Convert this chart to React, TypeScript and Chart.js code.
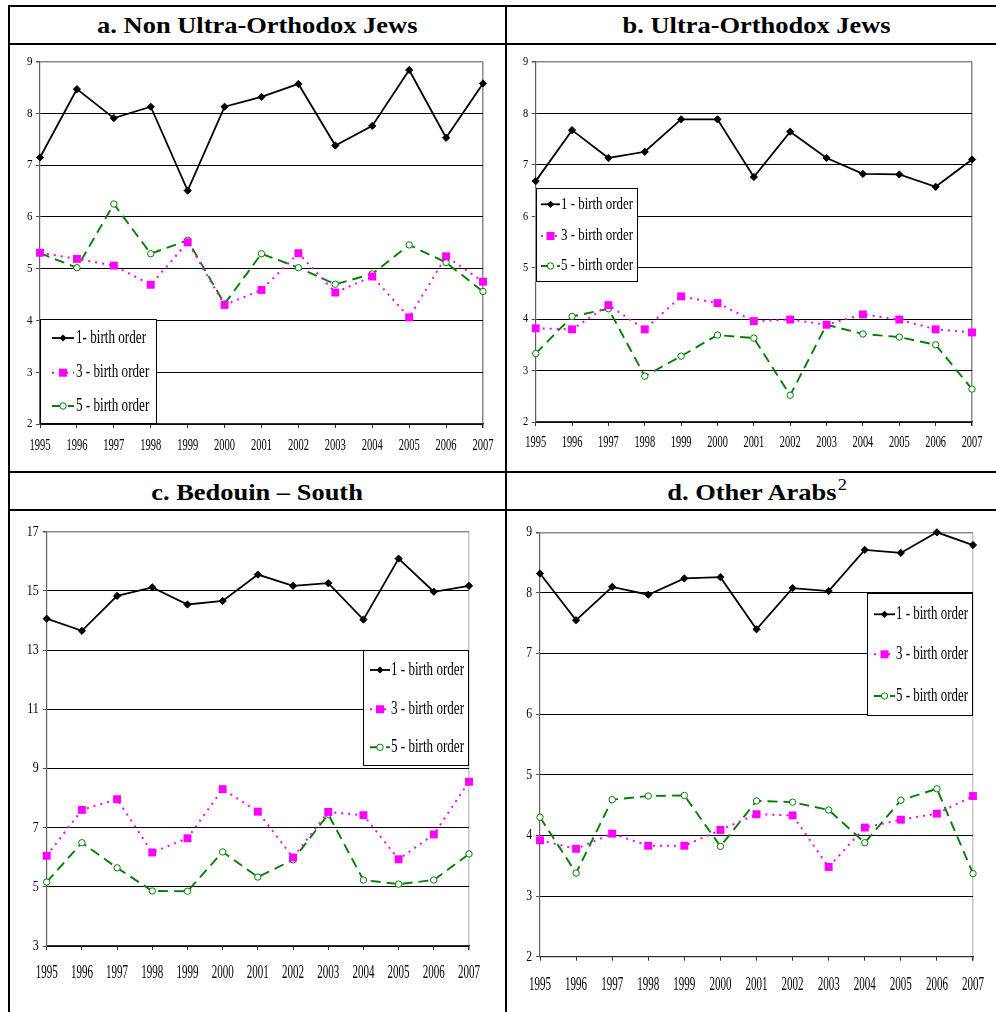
import React, { useEffect, useRef } from 'react';
import { Chart, registerables } from 'chart.js';

Chart.register(...registerables);

const FONT = "'Liberation Serif', 'Times New Roman', serif";

const YEARS = ['1995', '1996', '1997', '1998', '1999', '2000', '2001', '2002', '2003', '2004', '2005', '2006', '2007'];

const NAMES_A = ['1- birth order', '3 - birth order', '5 - birth order'];
const NAMES = ['1 - birth order', '3 - birth order', '5 - birth order'];

const A_FIRST = [7.15, 8.47, 7.91, 8.13, 6.51, 8.13, 8.32, 8.57, 7.38, 7.76, 8.84, 7.53, 8.58];
const A_THIRD = [5.31, 5.19, 5.06, 4.69, 5.51, 4.3, 4.59, 5.3, 4.54, 4.85, 4.06, 5.24, 4.75];
const A_FIFTH = [5.3, 5.02, 6.25, 5.29, 5.55, 4.32, 5.29, 5.02, 4.7, 4.9, 5.46, 5.12, 4.56];

const B_FIRST = [6.68, 7.67, 7.13, 7.25, 7.88, 7.88, 6.76, 7.64, 7.13, 6.82, 6.81, 6.57, 7.1];
const B_THIRD = [3.82, 3.8, 4.27, 3.8, 4.44, 4.31, 3.96, 3.99, 3.89, 4.09, 3.99, 3.8, 3.74];
const B_FIFTH = [3.33, 4.05, 4.2, 2.89, 3.28, 3.69, 3.63, 2.52, 3.89, 3.71, 3.65, 3.5, 2.64];

const C_FIRST = [14.06, 13.65, 14.83, 15.12, 14.54, 14.66, 15.55, 15.17, 15.26, 14.03, 16.09, 14.97, 15.17];
const C_THIRD = [6.05, 7.6, 7.96, 6.16, 6.64, 8.3, 7.54, 5.99, 7.53, 7.42, 5.93, 6.77, 8.55];
const C_FIFTH = [5.16, 6.49, 5.64, 4.86, 4.85, 6.18, 5.33, 5.91, 7.45, 5.23, 5.09, 5.23, 6.11];

const D_FIRST = [8.32, 7.55, 8.1, 7.97, 8.24, 8.26, 7.4, 8.08, 8.03, 8.71, 8.66, 9.0, 8.79];
const D_THIRD = [3.92, 3.78, 4.03, 3.83, 3.83, 4.09, 4.35, 4.33, 3.48, 4.13, 4.26, 4.36, 4.65];
const D_FIFTH = [4.3, 3.38, 4.59, 4.65, 4.66, 3.82, 4.57, 4.55, 4.42, 3.88, 4.58, 4.77, 3.37];

const Y_RANGE_AB = { min: 2, max: 9, step: 1 };
const Y_RANGE_C = { min: 3, max: 17, step: 2 };
const Y_RANGE_D = { min: 2, max: 9, step: 1 };

type Legend = {
  x0: number; y0: number; x1: number; y1: number;
  rows: number[]; s0: number; s1: number; tx: number; font: number; tw: number;
};

type Panel = {
  id: string;
  box: { left: number; top: number; width: number; height: number };
  area: { left: number; top: number; right: number; bottom: number };
  range: { min: number; max: number; step: number };
  series: number[][];
  names: string[];
  yFont: number; ySx: number; yGap: number;
  xFont: number; xW: number; xDy: number;
  legend: Legend;
  rightColor: string;
};

const PANELS: Panel[] = [
  {
    id: 'a',
    box: { left: 10, top: 45, width: 495, height: 426 },
    area: { left: 40, top: 61.7, right: 483, bottom: 424 },
    range: Y_RANGE_AB,
    series: [A_FIRST, A_THIRD, A_FIFTH],
    names: NAMES_A,
    yFont: 12.5, ySx: 0.88, yGap: 7.5,
    xFont: 16, xW: 21, xDy: 22,
    legend: { x0: 40, y0: 319, x1: 157, y1: 424, rows: [338, 372.7, 406], s0: 52, s1: 74, tx: 76, font: 18, tw: 70 },
    rightColor: '#8a8a8a',
  },
  {
    id: 'b',
    box: { left: 507, top: 45, width: 489, height: 426 },
    area: { left: 535.7, top: 61.7, right: 972, bottom: 422 },
    range: Y_RANGE_AB,
    series: [B_FIRST, B_THIRD, B_FIFTH],
    names: NAMES,
    yFont: 13, ySx: 0.8, yGap: 7.5,
    xFont: 17, xW: 20.7, xDy: 20.3,
    legend: { x0: 535.7, y0: 188, x1: 638, y1: 282, rows: [204.3, 236, 266], s0: 541, s1: 560, tx: 561, font: 17, tw: 72 },
    rightColor: '#8a8a8a',
  },
  {
    id: 'c',
    box: { left: 10, top: 511, width: 495, height: 501 },
    area: { left: 46.7, top: 531.7, right: 469, bottom: 946 },
    range: Y_RANGE_C,
    series: [C_FIRST, C_THIRD, C_FIFTH],
    names: NAMES,
    yFont: 15, ySx: 0.8, yGap: 8,
    xFont: 19, xW: 22, xDy: 27,
    legend: { x0: 363, y0: 650, x1: 469, y1: 766, rows: [670, 709.3, 747.3], s0: 370, s1: 390, tx: 391, font: 19, tw: 73 },
    rightColor: '#c8c8c8',
  },
  {
    id: 'd',
    box: { left: 507, top: 511, width: 489, height: 501 },
    area: { left: 540, top: 532.3, right: 973, bottom: 956.7 },
    range: Y_RANGE_D,
    series: [D_FIRST, D_THIRD, D_FIFTH],
    names: NAMES,
    yFont: 15, ySx: 0.78, yGap: 8,
    xFont: 19, xW: 22, xDy: 28.3,
    legend: { x0: 867, y0: 593, x1: 973, y1: 716, rows: [614.3, 654.3, 696], s0: 874, s1: 895, tx: 896, font: 19, tw: 72 },
    rightColor: '#c8c8c8',
  },
];

const STYLES = [
  { color: '#000000', width: 1.8, dash: [] as number[], pointStyle: 'rectRot', radius: 3.6, fill: '#000000', pbw: 1 },
  { color: '#FF00FF', width: 2, dash: [2, 5], pointStyle: 'rect', radius: 5.6, fill: '#FF00FF', pbw: 0 },
  { color: '#008000', width: 1.9, dash: [10, 6], pointStyle: 'circle', radius: 3.2, fill: '#FFFFFF', pbw: 1 },
];

function drawMarker(ctx: CanvasRenderingContext2D, i: number, x: number, y: number) {
  ctx.save();
  ctx.setLineDash([]);
  if (i === 0) {
    ctx.fillStyle = '#000';
    ctx.beginPath();
    ctx.moveTo(x, y - 3.6);
    ctx.lineTo(x + 3.6, y);
    ctx.lineTo(x, y + 3.6);
    ctx.lineTo(x - 3.6, y);
    ctx.closePath();
    ctx.fill();
  } else if (i === 1) {
    ctx.fillStyle = '#FF00FF';
    ctx.fillRect(x - 4, y - 4, 8, 8);
  } else {
    ctx.fillStyle = '#fff';
    ctx.strokeStyle = '#008000';
    ctx.lineWidth = 1;
    ctx.beginPath();
    ctx.arc(x, y, 3.2, 0, Math.PI * 2);
    ctx.fill();
    ctx.stroke();
  }
  ctx.restore();
}

function makePlugin(p: Panel) {
  const ox = p.box.left;
  const oy = p.box.top;
  return {
    id: 'panelDecor_' + p.id,
    afterDatasetsDraw(chart: any) {
      const ctx: CanvasRenderingContext2D = chart.ctx;
      const L = p.legend;
      ctx.save();
      ctx.fillStyle = '#fff';
      ctx.fillRect(L.x0 - ox, L.y0 - oy, L.x1 - L.x0, L.y1 - L.y0);
      ctx.strokeStyle = '#000';
      ctx.lineWidth = 1;
      ctx.strokeRect(Math.round(L.x0 - ox) + 0.5, Math.round(L.y0 - oy) + 0.5, Math.round(L.x1 - L.x0) - 1, Math.round(L.y1 - L.y0) - 1);
      ctx.font = `${L.font}px ${FONT}`;
      const sx = L.tw / ctx.measureText(p.names[0]).width;
      p.names.forEach((name, i) => {
        const st = STYLES[i];
        const y = L.rows[i] - oy;
        ctx.save();
        ctx.strokeStyle = st.color;
        ctx.lineWidth = st.width;
        ctx.setLineDash(st.dash);
        ctx.beginPath();
        ctx.moveTo(L.s0 - ox, y);
        ctx.lineTo(L.s1 - ox, y);
        ctx.stroke();
        ctx.restore();
        drawMarker(ctx, i, (L.s0 + L.s1) / 2 - ox, y);
        ctx.save();
        ctx.translate(L.tx - ox, y);
        ctx.scale(sx, 1);
        ctx.fillStyle = '#000';
        ctx.textAlign = 'left';
        ctx.textBaseline = 'middle';
        ctx.fillText(name, 0, 0);
        ctx.restore();
      });
      ctx.restore();
    },
    afterDraw(chart: any) {
      const ctx: CanvasRenderingContext2D = chart.ctx;
      const xs = chart.scales.x;
      const ys = chart.scales.y;
      const area = chart.chartArea;
      ctx.save();
      ctx.fillStyle = '#000';
      ctx.font = `${p.yFont}px ${FONT}`;
      ys.ticks.forEach((t: any) => {
        const y = ys.getPixelForValue(t.value);
        ctx.save();
        ctx.translate(area.left - p.yGap, y);
        ctx.scale(p.ySx, 1);
        ctx.textAlign = 'right';
        ctx.textBaseline = 'middle';
        ctx.fillText(String(t.value), 0, 0);
        ctx.restore();
      });
      ctx.font = `${p.xFont}px ${FONT}`;
      const sx = p.xW / ctx.measureText('1995').width;
      (chart.data.labels as string[]).forEach((lab, i) => {
        const x = xs.getPixelForValue(i);
        ctx.save();
        ctx.translate(x, area.bottom + p.xDy);
        ctx.scale(sx, 1);
        ctx.textAlign = 'center';
        ctx.textBaseline = 'middle';
        ctx.fillText(lab, 0, 0);
        ctx.restore();
      });
      ctx.restore();
    },
  };
}

function PanelChart({ p }: { p: Panel }) {
  const ref = useRef<HTMLCanvasElement>(null);
  useEffect(() => {
    if (!ref.current) return;
    const padTop = p.area.top - p.box.top;
    const padRight = p.box.left + p.box.width - p.area.right;
    const yWidth = p.area.left - p.box.left;
    const xHeight = p.box.top + p.box.height - p.area.bottom;
    const lastIndex = YEARS.length - 1;
    const chart = new Chart(ref.current, {
      type: 'line',
      data: {
        labels: YEARS,
        datasets: p.series.map((vals, i) => {
          const st = STYLES[i];
          return {
            label: p.names[i],
            data: vals,
            borderColor: st.color,
            borderWidth: st.width,
            borderDash: st.dash,
            tension: 0,
            fill: false,
            clip: false as any,
            pointStyle: st.pointStyle as any,
            pointRadius: st.radius,
            pointBackgroundColor: st.fill,
            pointBorderColor: st.color,
            pointBorderWidth: st.pbw,
          };
        }),
      },
      options: {
        animation: false,
        responsive: false,
        events: [],
        layout: { padding: { top: padTop, right: padRight, left: 0, bottom: 0 } },
        plugins: { legend: { display: false }, tooltip: { enabled: false } },
        scales: {
          x: {
            type: 'category',
            offset: false,
            ticks: { display: false },
            grid: {
              drawOnChartArea: true,
              drawTicks: true,
              tickLength: 4,
              tickColor: '#303030',
              color: (c: any) => (c.index === lastIndex ? p.rightColor : 'rgba(0,0,0,0)'),
              lineWidth: (c: any) => (c.index === lastIndex ? 1.5 : 1),
            },
            border: { display: true, color: '#303030', width: 1.2 },
            afterFit: (s: any) => { s.height = xHeight; },
          },
          y: {
            min: p.range.min,
            max: p.range.max,
            ticks: { display: false, stepSize: p.range.step },
            grid: {
              drawTicks: true,
              tickLength: 4,
              tickColor: '#505050',
              color: (c: any) => (c.tick && c.tick.value === p.range.max ? '#8a8a8a' : '#000000'),
              lineWidth: (c: any) => (c.tick && c.tick.value === p.range.max ? 1.5 : 1),
            },
            border: { display: true, color: '#606060', width: 1.2 },
            afterFit: (s: any) => { s.width = yWidth; },
          },
        },
      } as any,
      plugins: [makePlugin(p) as any],
    });
    return () => chart.destroy();
  }, [p]);
  return (
    <canvas
      ref={ref}
      width={p.box.width}
      height={p.box.height}
      style={{ position: 'absolute', left: p.box.left, top: p.box.top, width: p.box.width, height: p.box.height }}
    />
  );
}

const line = (left: number, top: number, width: number, height: number) => (
  <div style={{ position: 'absolute', left, top, width, height, background: '#000' }} />
);

function Title({ left, top, width, children }: { left: number; top: number; width: number; children: React.ReactNode }) {
  return (
    <div
      style={{
        position: 'absolute', left, top, width, textAlign: 'center',
        fontFamily: FONT, fontWeight: 'bold', fontSize: 23, lineHeight: '26px', color: '#000', whiteSpace: 'nowrap',
      }}
    >
      <span style={{ display: 'inline-block', transform: 'scaleX(1.15)' }}>{children}</span>
    </div>
  );
}

export default function App() {
  return (
    <div style={{ position: 'fixed', left: 0, top: 0, width: 996, height: 1012, overflow: 'hidden', background: '#fff' }}>
      {PANELS.map((p) => (
        <PanelChart key={p.id} p={p} />
      ))}
      {line(8, 5, 1000, 2)}
      {line(8, 43, 1000, 2)}
      {line(8, 471, 1000, 2)}
      {line(8, 509, 1000, 2)}
      {line(8, 5, 2, 1010)}
      {line(505, 5, 2, 1010)}
      <Title left={10} top={13} width={495}>a. Non Ultra-Orthodox Jews</Title>
      <Title left={507} top={13} width={500}>b. Ultra-Orthodox Jews</Title>
      <Title left={10} top={480} width={495}>c. Bedouin – South</Title>
      <Title left={507} top={480} width={500}>
        d. Other Arabs
        <sup style={{ fontSize: 16, fontWeight: 'normal', verticalAlign: 'top', position: 'relative', top: -8, marginLeft: 1 }}>2</sup>
      </Title>
    </div>
  );
}
